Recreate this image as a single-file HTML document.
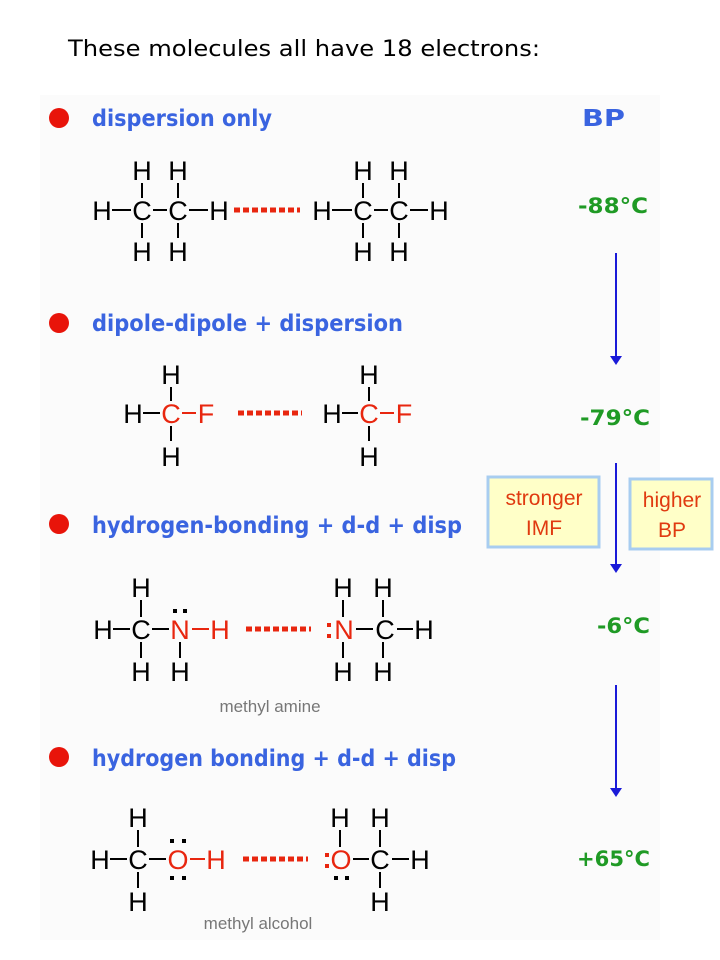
<!DOCTYPE html>
<html><head><meta charset="utf-8"><style>
html,body{margin:0;padding:0;background:#fff;}
svg{display:block}
.a{font-family:"Liberation Sans",Arial,sans-serif;font-size:27px;text-anchor:middle;fill:#000}
.r{fill:#e8260f}
.h{font-family:"DejaVu Sans","Liberation Sans",sans-serif;font-size:23px;fill:#3a64e0;font-weight:bold}
.t{font-family:"DejaVu Sans","Liberation Sans",sans-serif;font-size:21px;fill:#1f9a25;font-weight:bold}
.g{font-family:"Liberation Sans",sans-serif;font-size:17px;fill:#777;text-anchor:middle}
.bx{font-family:"Liberation Sans",sans-serif;font-size:21px;fill:#e03a10;text-anchor:middle}
line.b{stroke:#000;stroke-width:2}
line.d{stroke:#e8260f;stroke-width:5;stroke-dasharray:6,3}
</style></head><body>
<svg width="720" height="960" viewBox="0 0 720 960" xmlns="http://www.w3.org/2000/svg">
<rect x="40" y="95" width="620" height="845" fill="#fbfbfb"/>
<text x="68" y="56" font-family="DejaVu Sans,sans-serif" font-size="22" fill="#000" textLength="472" lengthAdjust="spacingAndGlyphs">These molecules all have 18 electrons:</text>
<g fill="#e8140a"><circle cx="59" cy="118" r="10"/><circle cx="59" cy="323" r="10"/><circle cx="59" cy="524" r="10"/><circle cx="59" cy="757" r="10"/></g>
<text class="h" x="92" y="126" textLength="180" lengthAdjust="spacingAndGlyphs">dispersion only</text>
<text class="h" x="92" y="331" textLength="311" lengthAdjust="spacingAndGlyphs">dipole-dipole + dispersion</text>
<text class="h" x="92" y="533" textLength="370" lengthAdjust="spacingAndGlyphs">hydrogen-bonding + d-d + disp</text>
<text class="h" x="92" y="766" textLength="364" lengthAdjust="spacingAndGlyphs">hydrogen bonding + d-d + disp</text>
<text class="h" x="582" y="126" textLength="43" lengthAdjust="spacingAndGlyphs">BP</text>
<text class="t" x="578" y="213" textLength="70" lengthAdjust="spacingAndGlyphs">-88°C</text>
<text class="t" x="580" y="425" textLength="70" lengthAdjust="spacingAndGlyphs">-79°C</text>
<text class="t" x="597" y="633" textLength="53" lengthAdjust="spacingAndGlyphs">-6°C</text>
<text class="t" x="577" y="866" textLength="73" lengthAdjust="spacingAndGlyphs">+65°C</text>
<g stroke="#1a1ad8" stroke-width="2"><line x1="616" y1="253" x2="616" y2="358"/><line x1="616" y1="463" x2="616" y2="566"/><line x1="616" y1="685" x2="616" y2="790"/></g>
<g fill="#1a1ad8"><path d="M610 356h12l-6 9z"/><path d="M610 564h12l-6 9z"/><path d="M610 788h12l-6 9z"/></g>
<rect x="488" y="477" width="111" height="70" fill="#ffffc8" stroke="#a8cdf0" stroke-width="3"/>
<rect x="630" y="479" width="82" height="70" fill="#ffffc8" stroke="#a8cdf0" stroke-width="3"/>
<text class="bx" x="544" y="505">stronger</text><text class="bx" x="544" y="535">IMF</text>
<text class="bx" x="672" y="507">higher</text><text class="bx" x="672" y="537">BP</text>

<!-- ethane -->
<text class="a" x="102" y="220">H</text><text class="a" x="142" y="220">C</text><text class="a" x="178" y="220">C</text><text class="a" x="219" y="220">H</text>
<text class="a" x="142" y="180">H</text><text class="a" x="178" y="180">H</text><text class="a" x="142" y="261">H</text><text class="a" x="178" y="261">H</text>
<text class="a" x="322" y="220">H</text><text class="a" x="363" y="220">C</text><text class="a" x="399" y="220">C</text><text class="a" x="439" y="220">H</text>
<text class="a" x="363" y="180">H</text><text class="a" x="399" y="180">H</text><text class="a" x="363" y="261">H</text><text class="a" x="399" y="261">H</text>
<line class="b" x1="112" y1="210" x2="131" y2="210"/><line class="b" x1="153" y1="210" x2="167" y2="210"/><line class="b" x1="189" y1="210" x2="208" y2="210"/>
<line class="b" x1="142" y1="183" x2="142" y2="198"/><line class="b" x1="178" y1="183" x2="178" y2="198"/><line class="b" x1="142" y1="223" x2="142" y2="238"/><line class="b" x1="178" y1="223" x2="178" y2="238"/>
<line class="b" x1="332" y1="210" x2="352" y2="210"/><line class="b" x1="374" y1="210" x2="388" y2="210"/><line class="b" x1="410" y1="210" x2="428" y2="210"/>
<line class="b" x1="363" y1="183" x2="363" y2="198"/><line class="b" x1="399" y1="183" x2="399" y2="198"/><line class="b" x1="363" y1="223" x2="363" y2="238"/><line class="b" x1="399" y1="223" x2="399" y2="238"/>
<line class="d" x1="234" y1="210" x2="300" y2="210"/>

<!-- CH3F -->
<text class="a" x="133" y="423">H</text><text class="a r" x="171" y="423">C</text><text class="a r" x="206" y="423">F</text>
<text class="a" x="171" y="384">H</text><text class="a" x="171" y="466">H</text>
<line class="b" x1="143" y1="413" x2="160" y2="413"/><line class="b" x1="182" y1="413" x2="196" y2="413" style="stroke:#e8260f"/>
<line class="b" x1="171" y1="387" x2="171" y2="401"/><line class="b" x1="171" y1="426" x2="171" y2="441"/>
<text class="a" x="332" y="423">H</text><text class="a r" x="369" y="423">C</text><text class="a r" x="404" y="423">F</text>
<text class="a" x="369" y="384">H</text><text class="a" x="369" y="466">H</text>
<line class="b" x1="342" y1="413" x2="358" y2="413"/><line class="b" x1="380" y1="413" x2="394" y2="413" style="stroke:#e8260f"/>
<line class="b" x1="369" y1="387" x2="369" y2="401"/><line class="b" x1="369" y1="426" x2="369" y2="441"/>
<line class="d" x1="238" y1="413" x2="302" y2="413"/>

<!-- methyl amine -->
<text class="a" x="103" y="639">H</text><text class="a" x="141" y="639">C</text><text class="a r" x="180" y="639">N</text><text class="a r" x="220" y="639">H</text>
<text class="a" x="141" y="597">H</text><text class="a" x="141" y="681">H</text><text class="a" x="180" y="681">H</text>
<line class="b" x1="113" y1="629" x2="130" y2="629"/><line class="b" x1="152" y1="629" x2="169" y2="629"/><line class="b" x1="192" y1="629" x2="209" y2="629" style="stroke:#e8260f"/>
<line class="b" x1="141" y1="600" x2="141" y2="617"/><line class="b" x1="141" y1="642" x2="141" y2="658"/><line class="b" x1="180" y1="642" x2="180" y2="658"/>
<g fill="#000"><rect x="173" y="609" width="4" height="4"/><rect x="183" y="609" width="4" height="4"/></g>
<line class="d" x1="246" y1="629" x2="311" y2="629"/>
<g fill="#e8260f"><rect x="327" y="623" width="4" height="4"/><rect x="327" y="634" width="4" height="4"/></g>
<text class="a r" x="344" y="639">N</text><text class="a" x="385" y="639">C</text><text class="a" x="424" y="639">H</text>
<text class="a" x="343" y="597">H</text><text class="a" x="383" y="597">H</text><text class="a" x="343" y="681">H</text><text class="a" x="383" y="681">H</text>
<line class="b" x1="356" y1="629" x2="373" y2="629"/><line class="b" x1="397" y1="629" x2="413" y2="629"/>
<line class="b" x1="343" y1="600" x2="343" y2="617"/><line class="b" x1="383" y1="600" x2="383" y2="617"/><line class="b" x1="343" y1="642" x2="343" y2="658"/><line class="b" x1="383" y1="642" x2="383" y2="658"/>
<text class="g" x="270" y="712">methyl amine</text>

<!-- methyl alcohol -->
<text class="a" x="100" y="869">H</text><text class="a" x="138" y="869">C</text><text class="a r" x="178" y="869">O</text><text class="a r" x="216" y="869">H</text>
<text class="a" x="138" y="827">H</text><text class="a" x="138" y="911">H</text>
<line class="b" x1="110" y1="859" x2="127" y2="859"/><line class="b" x1="149" y1="859" x2="166" y2="859"/><line class="b" x1="190" y1="859" x2="205" y2="859" style="stroke:#e8260f"/>
<line class="b" x1="138" y1="830" x2="138" y2="847"/><line class="b" x1="138" y1="872" x2="138" y2="888"/>
<g fill="#000"><rect x="170" y="839" width="4" height="4"/><rect x="182" y="839" width="4" height="4"/><rect x="170" y="876" width="4" height="4"/><rect x="182" y="876" width="4" height="4"/></g>
<line class="d" x1="243" y1="859" x2="308" y2="859"/>
<g fill="#e8260f"><rect x="325" y="853" width="4" height="4"/><rect x="325" y="864" width="4" height="4"/></g>
<text class="a r" x="341" y="869">O</text><text class="a" x="380" y="869">C</text><text class="a" x="420" y="869">H</text>
<text class="a" x="340" y="827">H</text><text class="a" x="380" y="827">H</text><text class="a" x="380" y="911">H</text>
<line class="b" x1="353" y1="859" x2="369" y2="859"/><line class="b" x1="392" y1="859" x2="409" y2="859"/>
<line class="b" x1="340" y1="830" x2="340" y2="847"/><line class="b" x1="380" y1="830" x2="380" y2="847"/><line class="b" x1="380" y1="872" x2="380" y2="888"/>
<g fill="#000"><rect x="334" y="876" width="4" height="4"/><rect x="345" y="876" width="4" height="4"/></g>
<text class="g" x="258" y="929">methyl alcohol</text>
</svg>
</body></html>
